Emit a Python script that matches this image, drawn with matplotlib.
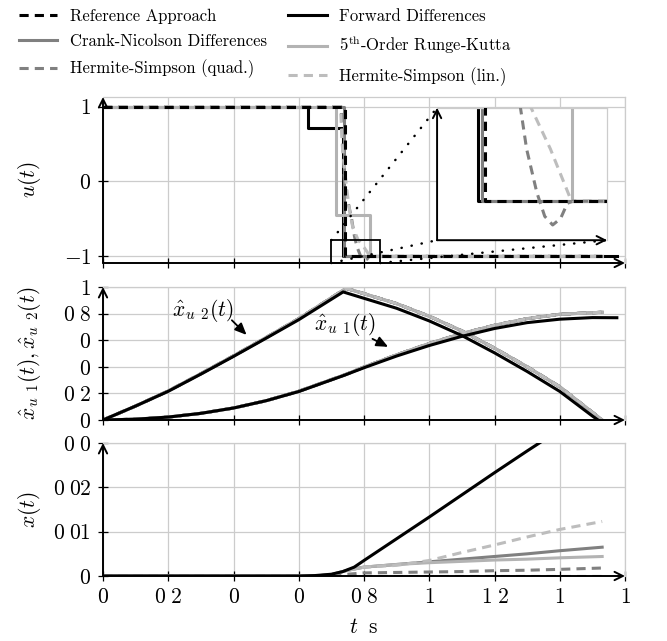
import matplotlib
matplotlib.use("Agg")
import matplotlib.pyplot as plt
from matplotlib.lines import Line2D
from matplotlib.patches import Rectangle

plt.rcParams["font.family"] = ["cmr10", "DejaVu Serif"]
plt.rcParams["mathtext.fontset"] = "cm"
plt.rcParams["axes.formatter.use_mathtext"] = True

# ---------------- data ----------------
x_ticks = [0, 0.2, 0.4, 0.6, 0.8, 1.0, 1.2, 1.4, 1.6]
x_tick_labels = ["$0$", r"$0\;2$", r"$0\;\enspace$", r"$0\;\enspace$", r"$0\;8$",
                 "$1$", r"$1\;2$", r"$1\;\enspace$", r"$1\;\enspace$"]

u_yticks = [-1, 0, 1]
u_ytick_labels = ["$-1$", "$0$", "$1$"]
xh_yticks = [0, 0.2, 0.4, 0.6, 0.8, 1.0]
xh_ytick_labels = ["$0$", r"$0\;2$", r"$0\;\enspace$", r"$0\;\enspace$", r"$0\;8$", "$1$"]
x_yticks = [0, 0.01, 0.02, 0.03]
x_ytick_labels = ["$0$", r"$0\;01$", r"$0\;02$", r"$0\;0\enspace$"]

series_names = ["Reference Approach", "Forward Differences", "Crank-Nicolson Differences",
                r"$5^{\mathrm{th}}$-Order Runge-Kutta", "Hermite-Simpson (quad.)",
                "Hermite-Simpson (lin.)"]

# control u(t) -- piecewise constant series (value holds from breakpoint on)
u_ref_t = [0, 0.742, 1.53]
u_ref = [1, -1, -1]
u_fd_t = [0, 0.628, 0.736, 1.575]
u_fd = [1, 0.72, -1, -1]
u_cn_t = [0, 0.740, 1.53]
u_cn = [1, -1, -1]
u_rk_t = [0, 0.714, 0.819, 1.53]
u_rk = [1, -0.45, -1, -1]
# Hermite-Simpson controls (continuous)
u_hsq_t = [0, 0.730, 0.735, 0.740, 0.750, 0.762, 0.771, 0.779, 0.788, 0.795, 0.802,
           0.809, 0.815, 0.820, 1.53]
u_hsq = [1, 1, 0.5, 0.0, -0.25, -0.5, -0.74, -0.88, -0.98, -1.035, -1.055, -1.04,
         -1.005, -1.0, -1.0]
u_hsl_t = [0, 0.728, 0.733, 0.742, 0.750, 0.758, 0.766, 0.782, 0.800, 0.817, 0.820, 1.53]
u_hsl = [1, 1, 0.5, 0.1, -0.2, -0.45, -0.62, -0.78, -0.88, -0.99, -1.0, -1.0]

# states x_u1, x_u2
xh_fd_t = [0, 0.1, 0.2, 0.3, 0.4, 0.5, 0.6, 0.736, 0.8, 0.9, 1.0, 1.1, 1.2, 1.3, 1.4,
           1.5, 1.575]
xh2_fd = [0, 0.105, 0.216, 0.345, 0.478, 0.615, 0.754, 0.963, 0.915, 0.84, 0.745,
          0.635, 0.505, 0.365, 0.215, 0.03, -0.1]
xh1_fd = [0, 0.006, 0.022, 0.05, 0.09, 0.145, 0.214, 0.333, 0.393, 0.481, 0.56, 0.629,
          0.688, 0.732, 0.758, 0.77, 0.769]
xh_t = [0, 0.1, 0.2, 0.3, 0.4, 0.5, 0.6, 0.745, 0.8, 0.9, 1.0, 1.1, 1.2, 1.3, 1.4, 1.53]
xh2 = [0, 0.105, 0.218, 0.348, 0.482, 0.62, 0.762, 0.99, 0.95, 0.875, 0.78, 0.67,
       0.54, 0.40, 0.25, 0.0]
xh1 = [0, 0.006, 0.022, 0.05, 0.09, 0.145, 0.216, 0.343, 0.398, 0.49, 0.575, 0.65,
       0.712, 0.762, 0.795, 0.81]

# x(t)
x_fd_t = [0, 0.6, 0.65, 0.7, 0.735, 0.77, 0.8, 0.9, 1.0, 1.1, 1.2, 1.3, 1.4, 1.575]
x_fd = [0, 0, 0.0001, 0.0004, 0.001, 0.002, 0.0035, 0.0084, 0.0133, 0.0183, 0.0233,
        0.0282, 0.033, 0.041]
x_t = [0, 0.65, 0.7, 0.75, 0.8, 0.9, 1.0, 1.1, 1.2, 1.3, 1.4, 1.53]
x_ref = [0, 0, 0, 0, 0, 0, 0, 0, 0, 0, 0, 0]
x_cn = [0, 0, 0.0003, 0.0013, 0.002, 0.0026, 0.0032, 0.0038, 0.0044, 0.005, 0.0057, 0.0065]
x_rk = [0, 0, 0.0003, 0.0013, 0.002, 0.0026, 0.003, 0.0033, 0.0036, 0.0038, 0.0041, 0.0044]
x_hsq = [0, 0, 0.0001, 0.0004, 0.0007, 0.0008, 0.0009, 0.001, 0.0012, 0.0013, 0.0015, 0.0018]
x_hsl = [0, 0, 0.0003, 0.0013, 0.002, 0.0024, 0.0035, 0.0053, 0.007, 0.0088, 0.0105, 0.0123]

# zoom window and inset placement (top panel data coords)
zoom_t = (0.70, 0.85)
zoom_u = (-1.09, -0.785)
inset_box = (1.024, -0.785, 0.521, 1.772)

# ---------------- styles ----------------
BLACK = "black"
DARK = "#808080"
LIGHT = "#b3b3b3"
LIGHTER = "#bdbdbd"
GRID = "#cccccc"
LW = 2.2
DASH = (0, (3, 2))
styles = [
    dict(color=BLACK, lw=LW, ls=DASH),
    dict(color=BLACK, lw=LW, ls="-"),
    dict(color=DARK, lw=LW, ls="-"),
    dict(color=LIGHT, lw=LW, ls="-"),
    dict(color=DARK, lw=LW, ls=DASH),
    dict(color=LIGHTER, lw=LW, ls=DASH),
]

fig = plt.figure(figsize=(6.67, 6.41), dpi=100)
W, H = 667.0, 641.0
left, width = 103 / W, 522 / W
ax1 = fig.add_axes([left, 1 - 263 / H, width, 166 / H])
ax2 = fig.add_axes([left, 1 - 420 / H, width, 133 / H])
ax3 = fig.add_axes([left, 1 - 576 / H, width, 133 / H])


def add_arrows(ax, lw=1.4):
    kw = dict(xycoords="axes fraction", annotation_clip=False, zorder=20,
              arrowprops=dict(arrowstyle="->", lw=lw, color="k", shrinkA=0,
                              shrinkB=0, mutation_scale=15))
    ax.annotate("", xy=(1, 0), xytext=(0, 0), **kw)
    ax.annotate("", xy=(0, 1), xytext=(0, 0), **kw)


def setup(ax, ylim, yticks, ylabels, xlabels):
    ax.set_xlim(0, 1.6)
    ax.set_ylim(*ylim)
    ax.set_xticks(x_ticks)
    ax.set_yticks(yticks)
    ax.set_yticklabels(ylabels)
    if xlabels:
        ax.set_xticklabels(x_tick_labels)
    else:
        ax.set_xticklabels([])
    ax.grid(True, color=GRID, lw=0.9)
    ax.set_axisbelow(True)
    for s in ("top", "right"):
        ax.spines[s].set_color(GRID)
        ax.spines[s].set_linewidth(0.9)
    for s in ("left", "bottom"):
        ax.spines[s].set_visible(False)
    ax.tick_params(direction="inout", length=7, width=0.9, labelsize=15.5, pad=5,
                   colors="k")
    add_arrows(ax)
    ax.yaxis.set_label_coords(-0.114, 0.5)


setup(ax1, (-1.09, 1.13), u_yticks, u_ytick_labels, False)
setup(ax2, (0, 1.0), xh_yticks, xh_ytick_labels, False)
setup(ax3, (0, 0.03), x_yticks, x_ytick_labels, True)

# ---- top panel: u(t)
def draw_u(ax):
    ax.step(u_fd_t, u_fd, where="post", **styles[1], zorder=2)
    ax.step(u_cn_t, u_cn, where="post", **styles[2], zorder=2.1)
    ax.step(u_rk_t, u_rk, where="post", **styles[3], zorder=2.2)
    ax.plot(u_hsq_t, u_hsq, **styles[4], zorder=3)
    ax.plot(u_hsl_t, u_hsl, **styles[5], zorder=3.1)
    ax.step(u_ref_t, u_ref, where="post", **styles[0], zorder=5)

draw_u(ax1)
ax1.set_ylabel(r"$u(t)$", fontsize=15.5)

ax1.add_patch(Rectangle((zoom_t[0], zoom_u[0]), zoom_t[1] - zoom_t[0],
                        zoom_u[1] - zoom_u[0], fill=False, ec="k", lw=1.3, zorder=6,
                        clip_on=False))
ix0, iy0, iw, ih = inset_box
dot = dict(color="k", lw=1.8, ls=(0, (0.1, 4)), dash_capstyle="round", zorder=6,
           clip_on=False)
ax1.plot([zoom_t[0], ix0], [zoom_u[1], iy0 + ih], **dot)
ax1.plot([zoom_t[0], ix0], [zoom_u[0], iy0], **dot)
ax1.plot([zoom_t[1], ix0 + iw], [zoom_u[0], iy0], **dot)

axins = ax1.inset_axes(list(inset_box), transform=ax1.transData)
axins.set_facecolor("white")
draw_u(axins)
axins.set_xlim(*zoom_t)
axins.set_ylim(*zoom_u)
axins.set_xticks([])
axins.set_yticks([])
for s in ("top", "right"):
    axins.spines[s].set_color(GRID)
    axins.spines[s].set_linewidth(0.9)
for s in ("left", "bottom"):
    axins.spines[s].set_visible(False)
add_arrows(axins)

# ---- middle panel
ax2.plot(xh_t, xh2, **styles[0], zorder=1)
ax2.plot(xh_t, xh1, **styles[0], zorder=1)
for k in (2, 3, 4, 5):
    ax2.plot(xh_t, xh2, **styles[k], zorder=2)
    ax2.plot(xh_t, xh1, **styles[k], zorder=2)
ax2.plot(xh_fd_t, xh2_fd, **styles[1], zorder=3)
ax2.plot(xh_fd_t, xh1_fd, **styles[1], zorder=3)
ax2.set_ylabel(r"$\hat{x}_{u\ \,1}(t),\hat{x}_{u\ \,2}(t)$", fontsize=15.5)

arrow_kw = dict(arrowstyle="-|>,head_length=0.5,head_width=0.22", color="k", lw=1.3,
                shrinkA=0, shrinkB=0, mutation_scale=14)
ax2.text(0.307, 0.82, r"$\hat{x}_{u\ \,2}(t)$", fontsize=15.5, ha="center", va="center")
ax2.annotate("", xy=(0.44, 0.64), xytext=(0.395, 0.75), arrowprops=arrow_kw)
ax2.text(0.74, 0.72, r"$\hat{x}_{u\ \,1}(t)$", fontsize=15.5, ha="center", va="center")
ax2.annotate("", xy=(0.874, 0.55), xytext=(0.826, 0.61), arrowprops=arrow_kw)

# ---- bottom panel
ax3.plot(x_t, x_ref, **styles[0], zorder=1)
ax3.plot(x_t, x_cn, **styles[2], zorder=2)
ax3.plot(x_t, x_rk, **styles[3], zorder=2)
ax3.plot(x_t, x_hsq, **styles[4], zorder=2)
ax3.plot(x_t, x_hsl, **styles[5], zorder=2)
ax3.plot(x_fd_t, x_fd, **styles[1], zorder=3)
ax3.set_ylabel(r"$x(t)$", fontsize=15.5)
ax3.set_xlabel(r"$t\ \;\mathrm{s}$", fontsize=15.5, labelpad=7)

# ---- legend
handles = [Line2D([], [], **st) for st in styles]
order = [0, 2, 4, 1, 3, 5]
fig.legend([handles[i] for i in order], [series_names[i] for i in order], ncol=2,
           loc="upper left", bbox_to_anchor=(0.028, 0.987), frameon=False,
           fontsize=12, handlelength=2.3, handletextpad=0.75, columnspacing=1.3,
           labelspacing=0.62, borderaxespad=0, borderpad=0)

fig.savefig("out.png", dpi=100)
